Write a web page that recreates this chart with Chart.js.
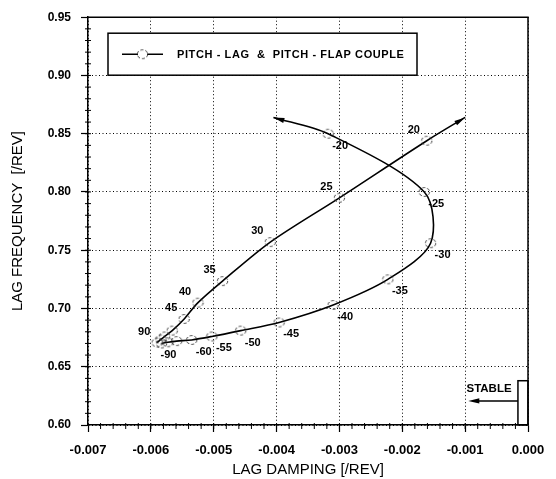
<!DOCTYPE html>
<html>
<head>
<meta charset="utf-8">
<script src="https://cdn.jsdelivr.net/npm/chart.js@4"></script>
<style>
  html, body { margin: 0; padding: 0; background: #fff; }
</style>
</head>
<body>
<canvas id="lag-chart" width="556" height="479"></canvas>
<script>
// pitch-lag & pitch-flap couple, positive branch (20 .. 90)
const posDamping = [-0.00100, -0.00161, -0.00300, -0.00410, -0.00486, -0.00525, -0.00547, -0.00566, -0.00578, -0.00584, -0.00590];
const posFreq = [0.864, 0.844, 0.795, 0.757, 0.7235, 0.705, 0.691, 0.681, 0.676, 0.6734, 0.6707];
const posLabels = ["", "20", "25", "30", "35", "40", "45", "", "", "", "90"];

// negative branch (-20 .. -90)
const negDamping = [-0.00405, -0.00318, -0.00165, -0.00155, -0.00223, -0.00310, -0.00396, -0.00457, -0.00503, -0.00535, -0.00559, -0.00573, -0.00583];
const negFreq = [0.864, 0.850, 0.800, 0.756, 0.725, 0.703, 0.688, 0.681, 0.676, 0.673, 0.672, 0.671, 0.670];
const negLabels = ["", "-20", "-25", "-30", "-35", "-40", "-45", "-50", "-55", "-60", "", "", "-90"];

const xTicks = [-0.007, -0.006, -0.005, -0.004, -0.003, -0.002, -0.001, 0];
const xTickLabels = ["-0.007", "-0.006", "-0.005", "-0.004", "-0.003", "-0.002", "-0.001", "0.000"];
const yTicks = [0.60, 0.65, 0.70, 0.75, 0.80, 0.85, 0.90, 0.95];
const yTickLabels = ["0.60", "0.65", "0.70", "0.75", "0.80", "0.85", "0.90", "0.95"];

const legendText = "PITCH - LAG  &  PITCH - FLAP COUPLE";

// small broken circle, like the scanned markers
function makeMarker() {
  const c = document.createElement("canvas");
  c.width = 13;
  c.height = 12;
  const g = c.getContext("2d");
  g.strokeStyle = "#333";
  g.lineWidth = 1;
  g.setLineDash([3, 2]);
  g.beginPath();
  g.ellipse(6.5, 6, 5.2, 4.4, 0, 0, Math.PI * 2);
  g.stroke();
  return c;
}
const marker = makeMarker();

function toPoints(xs, ys) {
  return xs.map((v, i) => ({ x: v, y: ys[i] }));
}

function branch(xs, ys, labels) {
  return {
    data: toPoints(xs, ys),
    borderColor: "#000",
    borderWidth: 1.6,
    tension: 0.3,
    pointStyle: marker,
    pointRadius: labels.map((l, i) => (i === 0 ? 0 : 4)),
    showLine: true,
    fill: false,
  };
}

function arrowHead(ctx, fx, fy, tx, ty) {
  const ang = Math.atan2(ty - fy, tx - fx);
  const len = 11, half = 2.6;
  ctx.beginPath();
  ctx.moveTo(tx, ty);
  ctx.lineTo(tx - len * Math.cos(ang) + half * Math.sin(ang), ty - len * Math.sin(ang) - half * Math.cos(ang));
  ctx.lineTo(tx - len * Math.cos(ang) - half * Math.sin(ang), ty - len * Math.sin(ang) + half * Math.cos(ang));
  ctx.closePath();
  ctx.fill();
}

const extras = {
  id: "extras",
  afterDatasetsDraw(chart) {
    const { ctx, chartArea: a, scales: { x, y } } = chart;
    ctx.save();

    // top and right of the frame
    ctx.strokeStyle = "#000";
    ctx.lineWidth = 1.5;
    ctx.beginPath();
    ctx.moveTo(a.left, a.top);
    ctx.lineTo(a.right, a.top);
    ctx.lineTo(a.right, a.bottom);
    ctx.stroke();

    // minor ticks
    ctx.lineWidth = 1;
    ctx.beginPath();
    for (let i = 1; i < 35; i++) {
      const py = y.getPixelForValue(0.6 + i * 0.01);
      ctx.moveTo(a.left - 3, py);
      ctx.lineTo(a.left + 3, py);
    }
    for (let i = 1; i < 35; i++) {
      const px = x.getPixelForValue(-0.007 + i * 0.0002);
      ctx.moveTo(px, a.bottom - 2);
      ctx.lineTo(px, a.bottom + 4);
    }
    ctx.stroke();

    // arrow heads at the open ends
    ctx.fillStyle = "#000";
    [0, 1].forEach((d) => {
      const pts = chart.getDatasetMeta(d).data;
      arrowHead(ctx, pts[1].x, pts[1].y, pts[0].x, pts[0].y);
    });

    // point labels
    ctx.font = "bold 11px 'Liberation Sans', Arial, sans-serif";
    ctx.textAlign = "center";
    ctx.textBaseline = "middle";
    chart.getDatasetMeta(0).data.forEach((p, i) => {
      if (posLabels[i]) ctx.fillText(posLabels[i], p.x - 13, p.y - 11);
    });
    chart.getDatasetMeta(1).data.forEach((p, i) => {
      if (!negLabels[i]) return;
      const dx = i === negLabels.length - 1 ? 7 : 12;
      ctx.fillText(negLabels[i], p.x + dx, p.y + 12);
    });

    // legend box
    const lx = a.left + 20, ly = a.top + 16, lw = 309, lh = 42;
    ctx.fillStyle = "#fff";
    ctx.fillRect(lx, ly, lw, lh);
    ctx.strokeStyle = "#000";
    ctx.lineWidth = 1.5;
    ctx.strokeRect(lx, ly, lw, lh);
    const my = ly + lh / 2;
    ctx.beginPath();
    ctx.moveTo(lx + 14, my);
    ctx.lineTo(lx + 55, my);
    ctx.stroke();
    ctx.fillStyle = "#fff";
    ctx.fillRect(lx + 30, my - 4, 9, 8);
    ctx.drawImage(marker, lx + 34.5 - 6.5, my - 6);
    ctx.fillStyle = "#000";
    ctx.font = "bold 11px 'Liberation Sans', Arial, sans-serif";
    ctx.textAlign = "left";
    ctx.letterSpacing = "0.6px";
    ctx.fillText(legendText, lx + 69, my + 1);
    ctx.letterSpacing = "0px";

    // STABLE marker at bottom right
    const bx = x.getPixelForValue(-0.00016);
    const by = y.getPixelForValue(0.638);
    ctx.lineWidth = 1.5;
    ctx.strokeRect(bx, by, a.right - bx, a.bottom - by);
    const ay = y.getPixelForValue(0.6207);
    const ax = x.getPixelForValue(-0.00095);
    ctx.beginPath();
    ctx.moveTo(bx, ay);
    ctx.lineTo(ax + 8, ay);
    ctx.stroke();
    arrowHead(ctx, bx, ay, ax, ay);
    ctx.font = "bold 11.5px 'Liberation Sans', Arial, sans-serif";
    ctx.textAlign = "center";
    ctx.fillText("STABLE", x.getPixelForValue(-0.00062), y.getPixelForValue(0.631));

    ctx.restore();
  },
};

const gridCommon = {
  color: "#000",
  lineWidth: 1,
  drawTicks: true,
  tickLength: 7,
  tickColor: "#000",
  tickWidth: 1.2,
  tickBorderDash: [],
};

const chart = new Chart(document.getElementById("lag-chart"), {
  type: "scatter",
  data: {
    datasets: [branch(posDamping, posFreq, posLabels), branch(negDamping, negFreq, negLabels)],
  },
  options: {
    responsive: false,
    animation: false,
    devicePixelRatio: 1,
    layout: { padding: { left: 0, top: 14, right: 28, bottom: 0 } },
    plugins: { legend: { display: false }, tooltip: { enabled: false } },
    scales: {
      x: {
        type: "linear",
        min: -0.007,
        max: 0,
        afterBuildTicks: (s) => { s.ticks = xTicks.map((v) => ({ value: v })); },
        afterFit: (s) => { s.height = 54; },
        grid: gridCommon,
        border: { color: "#000", width: 1.5, dash: [1, 2.5] },
        ticks: {
          color: "#000",
          padding: 11,
          maxRotation: 0,
          font: { family: "'Liberation Sans', Arial, sans-serif", size: 13, weight: "bold" },
          callback: (v, i) => xTickLabels[i],
        },
        title: {
          display: true,
          text: "LAG DAMPING [/REV]",
          color: "#000",
          padding: { top: 0, bottom: 0 },
          font: { family: "'Liberation Sans', Arial, sans-serif", size: 15 },
        },
      },
      y: {
        type: "linear",
        min: 0.6,
        max: 0.95,
        afterBuildTicks: (s) => { s.ticks = yTicks.map((v) => ({ value: v })); },
        afterFit: (s) => { s.width = 88; },
        grid: gridCommon,
        border: { color: "#000", width: 1.5, dash: [1, 2.5] },
        ticks: {
          color: "#000",
          padding: 10,
          font: { family: "'Liberation Sans', Arial, sans-serif", size: 12, weight: "bold" },
          callback: (v, i) => yTickLabels[i],
        },
        title: {
          display: true,
          text: "LAG FREQUENCY  [/REV]",
          color: "#000",
          padding: { top: 9, bottom: 0 },
          font: { family: "'Liberation Sans', Arial, sans-serif", size: 15 },
        },
      },
    },
  },
  plugins: [extras],
});
</script>
</body>
</html>
